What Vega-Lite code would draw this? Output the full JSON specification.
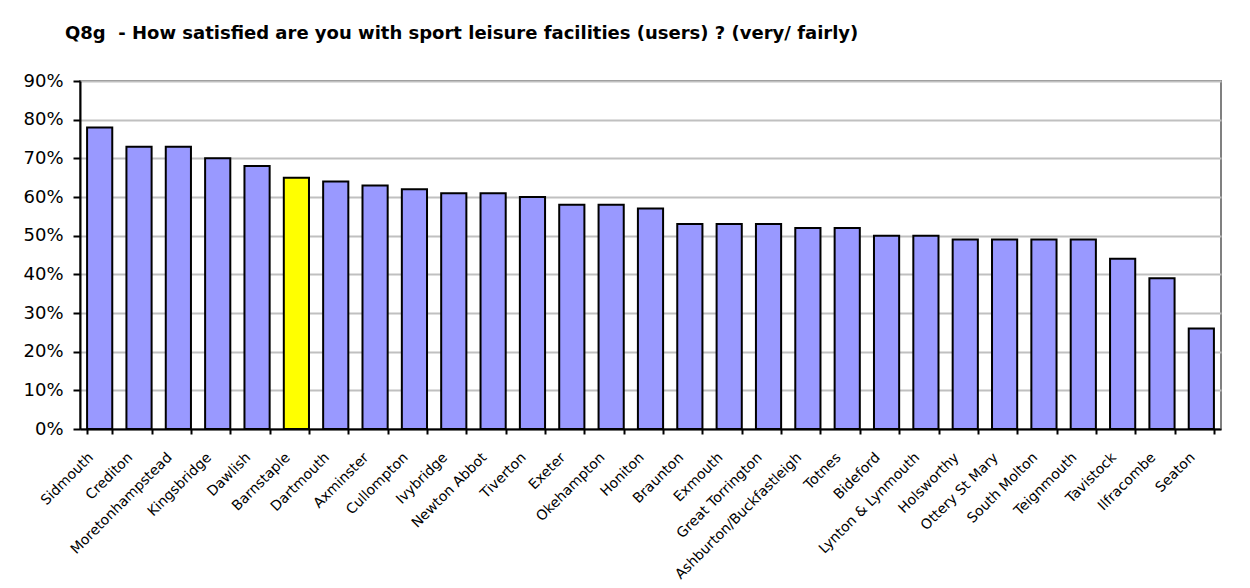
{
  "$schema": "https://vega.github.io/schema/vega-lite/v6.json",
  "autosize": {"type": "none"},
  "padding": {"left": 80, "top": 81, "right": 29, "bottom": 159},
  "width": 1141,
  "height": 348,
  "background": "white",
  "title": {
    "text": "Q8g \u00a0- How satisfied are you with sport leisure facilities (users) ? (very/ fairly)",
    "anchor": "start",
    "frame": "group",
    "dx": -15,
    "offset": 15,
    "baseline": "alphabetic",
    "font": "DejaVu Sans",
    "fontSize": 18,
    "fontWeight": "bold",
    "color": "black"
  },
  "data": {
    "values": [
      {"town": "Sidmouth", "pct": 0.78, "hl": "no"},
      {"town": "Crediton", "pct": 0.73, "hl": "no"},
      {"town": "Moretonhampstead", "pct": 0.73, "hl": "no"},
      {"town": "Kingsbridge", "pct": 0.70, "hl": "no"},
      {"town": "Dawlish", "pct": 0.68, "hl": "no"},
      {"town": "Barnstaple", "pct": 0.65, "hl": "yes"},
      {"town": "Dartmouth", "pct": 0.64, "hl": "no"},
      {"town": "Axminster", "pct": 0.63, "hl": "no"},
      {"town": "Cullompton", "pct": 0.62, "hl": "no"},
      {"town": "Ivybridge", "pct": 0.61, "hl": "no"},
      {"town": "Newton Abbot", "pct": 0.61, "hl": "no"},
      {"town": "Tiverton", "pct": 0.60, "hl": "no"},
      {"town": "Exeter", "pct": 0.58, "hl": "no"},
      {"town": "Okehampton", "pct": 0.58, "hl": "no"},
      {"town": "Honiton", "pct": 0.57, "hl": "no"},
      {"town": "Braunton", "pct": 0.53, "hl": "no"},
      {"town": "Exmouth", "pct": 0.53, "hl": "no"},
      {"town": "Great Torrington", "pct": 0.53, "hl": "no"},
      {"town": "Ashburton/Buckfastleigh", "pct": 0.52, "hl": "no"},
      {"town": "Totnes", "pct": 0.52, "hl": "no"},
      {"town": "Bideford", "pct": 0.50, "hl": "no"},
      {"town": "Lynton & Lynmouth", "pct": 0.50, "hl": "no"},
      {"town": "Holsworthy", "pct": 0.49, "hl": "no"},
      {"town": "Ottery St Mary", "pct": 0.49, "hl": "no"},
      {"town": "South Molton", "pct": 0.49, "hl": "no"},
      {"town": "Teignmouth", "pct": 0.49, "hl": "no"},
      {"town": "Tavistock", "pct": 0.44, "hl": "no"},
      {"town": "Ilfracombe", "pct": 0.39, "hl": "no"},
      {"town": "Seaton", "pct": 0.26, "hl": "no"}
    ]
  },
  "mark": {"type": "bar", "stroke": "black", "strokeWidth": 2},
  "encoding": {
    "x": {
      "field": "town",
      "type": "nominal",
      "sort": null,
      "scale": {"paddingInner": 0.36, "paddingOuter": 0.18},
      "axis": {
        "title": null,
        "labelAngle": -45,
        "labelAlign": "right",
        "labelBaseline": "middle",
        "labelFont": "DejaVu Sans",
        "labelFontSize": 14,
        "labelColor": "black",
        "labelPadding": 21,
        "labelOffset": -9,
        "labelOverlap": false,
        "domainColor": "black",
        "domainWidth": 2,
        "tickColor": "black",
        "tickWidth": 2,
        "tickSize": 5,
        "tickBand": "extent",
        "grid": false
      }
    },
    "y": {
      "field": "pct",
      "type": "quantitative",
      "scale": {"domain": [0, 0.9], "nice": false},
      "axis": {
        "title": null,
        "format": ".0%",
        "values": [0, 0.1, 0.2, 0.3, 0.4, 0.5, 0.6, 0.7, 0.8, 0.9],
        "labelFont": "DejaVu Sans",
        "labelFontSize": 18,
        "labelColor": "black",
        "labelPadding": 10,
        "domainColor": "black",
        "domainWidth": 2,
        "tickColor": "black",
        "tickWidth": 2,
        "tickSize": 7,
        "grid": true,
        "gridColor": "#c0c0c0",
        "gridWidth": 2
      }
    },
    "fill": {
      "field": "hl",
      "type": "nominal",
      "scale": {"domain": ["no", "yes"], "range": ["#9999FF", "#FFFF00"]},
      "legend": null
    }
  },
  "config": {
    "view": {"stroke": "#808080", "strokeWidth": 2}
  }
}
